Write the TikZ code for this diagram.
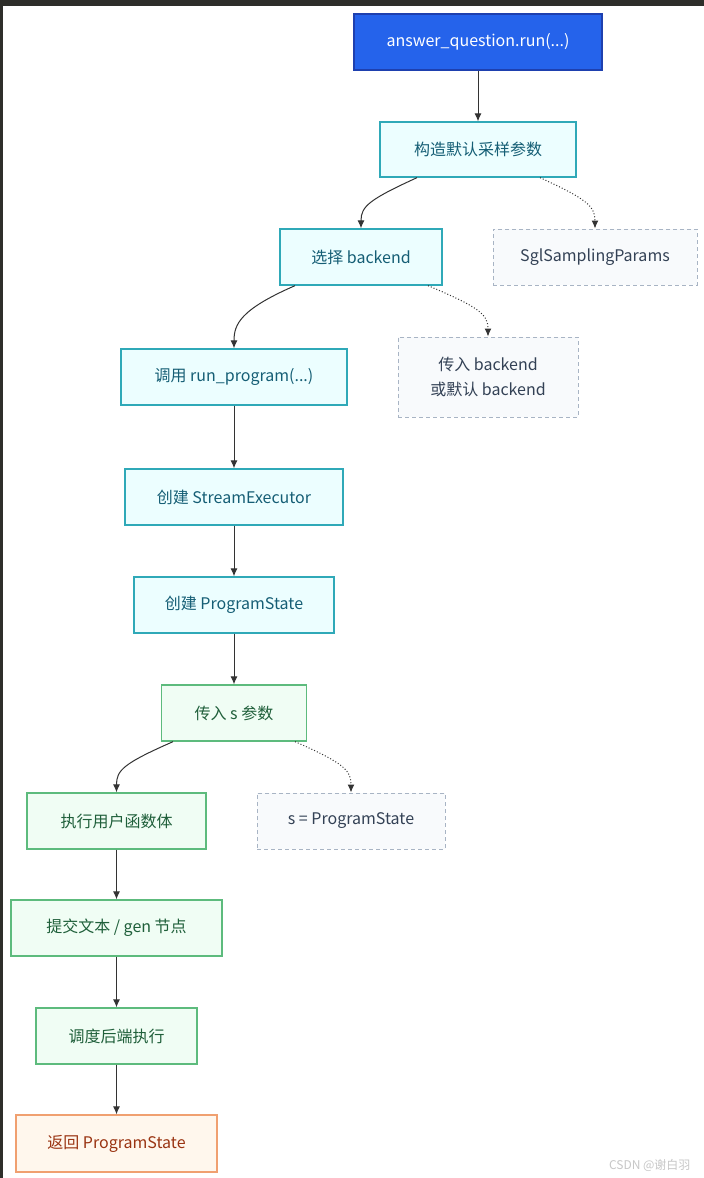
\documentclass[tikz,border=0pt]{standalone}
\usepackage{fontspec}
\setmainfont{Noto Sans CJK SC}
\usetikzlibrary{arrows.meta}
\definecolor{bluefill}{HTML}{2563EB}
\definecolor{blueline}{HTML}{1E40AF}
\definecolor{cyanfill}{HTML}{ECFEFF}
\definecolor{cyanline}{HTML}{2FA9B8}
\definecolor{cyantext}{HTML}{155E75}
\definecolor{greenfill}{HTML}{F0FDF4}
\definecolor{greenline}{HTML}{5DBB7D}
\definecolor{greentext}{HTML}{1F5F3A}
\definecolor{grayfill}{HTML}{F8FAFC}
\definecolor{grayline}{HTML}{A8B4C4}
\definecolor{graytext}{HTML}{334155}
\definecolor{orangefill}{HTML}{FFF7ED}
\definecolor{orangeline}{HTML}{F0A070}
\definecolor{orangetext}{HTML}{9A3412}
\definecolor{edgecol}{HTML}{333333}
\definecolor{darkframe}{HTML}{2E2E2A}
\tikzset{
  box/.style={draw, line width=1.3pt, inner sep=0pt, align=center,
    font=\fontsize{16}{25}\selectfont},
  startbox/.style={box, fill=bluefill, draw=blueline, text=white},
  cyanbox/.style={box, fill=cyanfill, draw=cyanline, text=cyantext},
  greenbox/.style={box, fill=greenfill, draw=greenline, text=greentext},
  notebox/.style={box, fill=grayfill, draw=grayline, text=graytext, dashed, line width=1pt, dash pattern=on 4pt off 3pt},
  endbox/.style={box, fill=orangefill, draw=orangeline, text=orangetext},
  flow/.style={draw=edgecol, line width=1pt, -{Latex[length=8pt,width=7pt]}},
  dotflow/.style={draw=edgecol, line width=1pt, dotted, -{Latex[length=8pt,width=7pt]}},
}
\begin{document}
\begin{tikzpicture}[x=1pt,y=-1pt]
\useasboundingbox (0,0) rectangle (704,1178);
\fill[white] (0,0) rectangle (704,1178);
\fill[darkframe] (0,0) rectangle (704,6);
\fill[darkframe] (0,0) rectangle (3,1178);

\node[startbox, minimum width=248pt, minimum height=56pt] (n1) at (478,42) {answer\_question.run(...)};
\node[cyanbox, minimum width=196pt, minimum height=55pt] (n2) at (478,149.5) {构造默认采样参数};
\node[cyanbox, minimum width=162pt, minimum height=56pt] (n3) at (361,257) {选择 backend};
\node[notebox, minimum width=204pt, minimum height=56pt] (n4) at (595,257) {SglSamplingParams};
\node[cyanbox, minimum width=226pt, minimum height=56pt] (n5) at (234,377) {调用 run\_program(...)};
\node[notebox, minimum width=180pt, minimum height=80pt] (n6) at (488,377) {传入 backend\\或默认 backend};
\node[cyanbox, minimum width=218pt, minimum height=56pt] (n7) at (234,497) {创建 StreamExecutor};
\node[cyanbox, minimum width=200pt, minimum height=56pt] (n8) at (234,605) {创建 ProgramState};
\node[greenbox, minimum width=145pt, minimum height=56pt] (n9) at (234,713) {传入 s 参数};
\node[greenbox, minimum width=179pt, minimum height=56pt] (n10) at (116.5,821) {执行用户函数体};
\node[notebox, minimum width=188pt, minimum height=56pt] (n11) at (351,821) {s = ProgramState};
\node[greenbox, minimum width=211pt, minimum height=56pt] (n12) at (116.5,928) {提交文本 / gen 节点};
\node[greenbox, minimum width=161pt, minimum height=56pt] (n13) at (116.5,1036) {调度后端执行};
\node[endbox, minimum width=201pt, minimum height=57pt] (n14) at (116.5,1143.5) {返回 ProgramState};

\node[text=black!22, font=\fontsize{12}{14}\selectfont, anchor=east] (wm) at (694,1165) {CSDN @谢白羽};

\draw[flow] (n1) -- (n2);
\draw[flow] ([xshift=-61pt]n2.south) .. controls +(-48,22) and +(0,-22) .. (n3.north);
\draw[dotflow] ([xshift=62pt]n2.south) .. controls +(48,22) and +(0,-22) .. (n4.north);
\draw[flow] ([xshift=-66pt]n3.south) .. controls +(-55,24) and +(0,-24) .. (n5.north);
\draw[dotflow] ([xshift=67pt]n3.south) .. controls +(52,22) and +(0,-22) .. (n6.north);
\draw[flow] (n5) -- (n7);
\draw[flow] (n7) -- (n8);
\draw[flow] (n8) -- (n9);
\draw[flow] ([xshift=-61pt]n9.south) .. controls +(-50,22) and +(0,-22) .. (n10.north);
\draw[dotflow] ([xshift=61pt]n9.south) .. controls +(50,22) and +(0,-22) .. (n11.north);
\draw[flow] (n10) -- (n12);
\draw[flow] (n12) -- (n13);
\draw[flow] (n13) -- (n14);
\end{tikzpicture}
\end{document}
